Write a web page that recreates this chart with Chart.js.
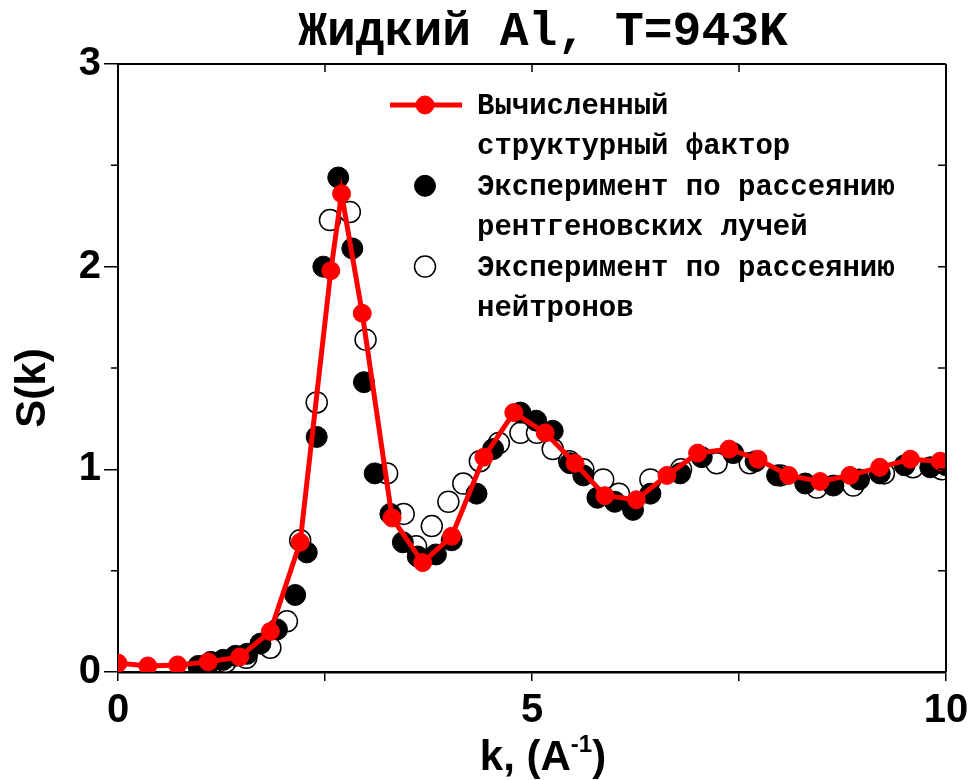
<!DOCTYPE html>
<html>
<head>
<meta charset="utf-8">
<script src="https://cdn.jsdelivr.net/npm/chart.js@4"></script>
<style>
  html, body { margin: 0; padding: 0; background: #fff; }
  #wrap { width: 970px; height: 780px; position: relative; }
</style>
</head>
<body>
<div id="wrap"><canvas id="c" width="970" height="780"></canvas></div>
<script>
// Calculated structure factor of liquid Al (red line with markers)
const kCalc = [0, 0.36, 0.72, 1.09, 1.47, 1.84, 2.20, 2.57, 2.70, 2.95, 3.31, 3.68, 4.03, 4.42, 4.78,
  5.16, 5.52, 5.88, 6.26, 6.63, 7.00, 7.38, 7.73, 8.10, 8.48, 8.84, 9.20, 9.57, 9.93];
const sCalc = [0.044, 0.03, 0.035, 0.05, 0.074, 0.20, 0.64, 1.98, 2.36, 1.77, 0.76, 0.54, 0.67, 1.06, 1.28,
  1.18, 1.03, 0.87, 0.85, 0.97, 1.08, 1.10, 1.05, 0.97, 0.94, 0.97, 1.01, 1.05, 1.04];

// X-ray scattering experiment (filled circles)
const kXray = [0.97, 1.12, 1.27, 1.42, 1.56, 1.72, 1.92, 2.14, 2.28, 2.40, 2.48, 2.66, 2.83, 2.97, 3.10,
  3.29, 3.44, 3.62, 3.84, 4.03, 4.33, 4.53, 4.86, 5.05, 5.25, 5.46, 5.62, 5.79, 6.00, 6.22, 6.43, 6.79,
  7.05, 7.43, 7.70, 7.96, 8.30, 8.64, 8.95, 9.20, 9.50, 9.81, 10.0];
const sXray = [0.03, 0.05, 0.06, 0.08, 0.09, 0.14, 0.21, 0.38, 0.59, 1.16, 2.00, 2.44, 2.09, 1.43, 0.98,
  0.78, 0.64, 0.57, 0.58, 0.65, 0.88, 1.10, 1.28, 1.24, 1.19, 1.03, 0.97, 0.86, 0.84, 0.80, 0.88, 0.98,
  1.06, 1.08, 1.04, 0.97, 0.93, 0.92, 0.95, 0.98, 1.02, 1.01, 1.02];

// Neutron scattering experiment (open circles)
const kNeut = [1.05, 1.30, 1.55, 1.84, 2.04, 2.20, 2.40, 2.56, 2.80, 2.99, 3.25, 3.45, 3.60, 3.79, 3.99,
  4.17, 4.37, 4.60, 4.86, 5.06, 5.25, 5.45, 5.62, 5.86, 6.05, 6.43, 6.80, 7.23, 7.63, 8.00, 8.44, 8.88,
  9.25, 9.60, 9.95];
const sNeut = [0.03, 0.05, 0.07, 0.12, 0.25, 0.65, 1.33, 2.23, 2.27, 1.64, 0.98, 0.78, 0.62, 0.72, 0.84,
  0.93, 1.04, 1.13, 1.18, 1.18, 1.10, 1.04, 1.00, 0.95, 0.88, 0.95, 1.00, 1.03, 1.03, 0.97, 0.91, 0.92,
  0.98, 1.01, 1.00];

// Axis ticks
const xTickValues = [0, 2.5, 5, 7.5, 10];
const xTickLabels = ['0', '', '5', '', '10'];
const yTickValues = [0, 0.5, 1, 1.5, 2, 2.5, 3];
const yTickLabels = ['0', '', '1', '', '2', '', '3'];

const titleText = 'Жидкий Al, T=943K';
const legendLines = [
  ['Вычисленный', 'структурный фактор'],
  ['Эксперимент по рассеянию', 'рентгеновских лучей'],
  ['Эксперимент по рассеянию', 'нейтронов']
];

const toPts = (ks, ss) => ks.map((k, i) => ({ x: k, y: ss[i] }));

const RED = '#ff0000';
const MONO = "bold 29px 'Liberation Mono', 'DejaVu Sans Mono', monospace";
const SANS = "'Liberation Sans', Arial, sans-serif";

const frame = {
  id: 'frame',
  afterDraw(chart) {
    const { ctx, chartArea: a, scales: { x, y } } = chart;
    ctx.save();
    ctx.strokeStyle = '#000';
    ctx.lineWidth = 2;
    // top and right axis lines
    ctx.beginPath();
    ctx.moveTo(a.left, a.top); ctx.lineTo(a.right, a.top);
    ctx.moveTo(a.right, a.top); ctx.lineTo(a.right, a.bottom);
    ctx.stroke();
    ctx.lineWidth = 1.5;
    ctx.beginPath();
    // top ticks pointing inward
    xTickValues.slice(1, -1).forEach(v => {
      const px = x.getPixelForValue(v);
      ctx.moveTo(px, a.top); ctx.lineTo(px, a.top + 8);
    });
    // right ticks pointing inward
    yTickValues.slice(1, -1).forEach(v => {
      const py = y.getPixelForValue(v);
      ctx.moveTo(a.right, py); ctx.lineTo(a.right - 8, py);
    });
    // left minor ticks (outward, shorter)
    yTickValues.forEach((v, i) => {
      if (yTickLabels[i] !== '') return;
      const py = y.getPixelForValue(v);
      ctx.moveTo(a.left, py); ctx.lineTo(a.left - 7, py);
    });
    ctx.stroke();

    // title
    ctx.fillStyle = '#000';
    ctx.font = "bold 48px 'Liberation Mono', 'DejaVu Sans Mono', monospace";
    ctx.textAlign = 'center';
    ctx.textBaseline = 'alphabetic';
    ctx.fillText(titleText, 543, 45);

    // x axis title with superscript
    const big = 'bold 42px ' + SANS, small = 'bold 24px ' + SANS;
    ctx.font = small; const w2 = ctx.measureText('-1').width;
    ctx.font = big;
    const p1 = 'k, (A', p3 = ')';
    const w1 = ctx.measureText(p1).width, w3 = ctx.measureText(p3).width;
    let sx = 543 - (w1 + w2 + w3) / 2;
    ctx.textAlign = 'left';
    ctx.fillText(p1, sx, 770); sx += w1;
    ctx.font = small; ctx.fillText('-1', sx, 752); sx += w2;
    ctx.font = big; ctx.fillText(p3, sx, 770);

    // y axis title
    ctx.save();
    ctx.translate(33, 388);
    ctx.rotate(-Math.PI / 2);
    ctx.textAlign = 'center';
    ctx.textBaseline = 'middle';
    ctx.font = 'bold 42px ' + SANS;
    ctx.fillText('S(k)', 0, 0);
    ctx.restore();

    // legend
    const ds = chart.data.datasets;
    const mx = 425, tx = 477, base = 114, step = 40.4;
    ctx.font = MONO;
    ctx.textAlign = 'left';
    ctx.textBaseline = 'alphabetic';
    legendLines.forEach((lines, i) => {
      const d = ds[i];
      const ly0 = base + step * 2 * i;
      const cy = ly0 - 9;
      if (d.showLine) {
        ctx.strokeStyle = d.borderColor;
        ctx.lineWidth = d.borderWidth;
        ctx.beginPath(); ctx.moveTo(390, cy); ctx.lineTo(462, cy); ctx.stroke();
      }
      ctx.beginPath();
      ctx.arc(mx, cy, d.pointRadius, 0, Math.PI * 2);
      ctx.fillStyle = d.pointBackgroundColor;
      ctx.fill();
      ctx.lineWidth = d.pointBorderWidth;
      ctx.strokeStyle = d.pointBorderColor;
      ctx.stroke();
      ctx.fillStyle = '#000';
      lines.forEach((t, j) => ctx.fillText(t, tx, ly0 + step * j));
    });
    ctx.restore();
  }
};

new Chart(document.getElementById('c'), {
  type: 'scatter',
  data: {
    datasets: [
      {
        label: 'Вычисленный структурный фактор',
        data: toPts(kCalc, sCalc),
        showLine: true,
        borderColor: RED,
        borderWidth: 5,
        pointRadius: 9,
        pointBackgroundColor: RED,
        pointBorderColor: RED,
        pointBorderWidth: 1,
        order: 0
      },
      {
        label: 'Эксперимент по рассеянию рентгеновских лучей',
        data: toPts(kXray, sXray),
        showLine: false,
        pointRadius: 10.5,
        pointBackgroundColor: '#000',
        pointBorderColor: '#000',
        pointBorderWidth: 1,
        order: 1
      },
      {
        label: 'Эксперимент по рассеянию нейтронов',
        data: toPts(kNeut, sNeut),
        showLine: false,
        pointRadius: 10.5,
        pointBackgroundColor: '#fff',
        pointBorderColor: '#000',
        pointBorderWidth: 1.5,
        order: 2
      }
    ]
  },
  options: {
    responsive: false,
    animation: false,
    events: [],
    layout: { padding: { top: 64, right: 24, left: 0, bottom: 0 } },
    plugins: { legend: { display: false }, tooltip: { enabled: false }, title: { display: false } },
    scales: {
      x: {
        type: 'linear',
        min: 0, max: 10,
        afterFit(s) { s.height = 108; s.paddingLeft = 0; s.paddingRight = 0; },
        afterBuildTicks(s) { s.ticks = xTickValues.map(v => ({ value: v })); },
        ticks: {
          color: '#000',
          font: { family: SANS, size: 40, weight: 'bold' },
          padding: 6,
          maxRotation: 0,
          autoSkip: false,
          callback: (v) => xTickLabels[xTickValues.indexOf(v)]
        },
        grid: { drawOnChartArea: false, drawTicks: true, tickLength: 9, color: '#000', lineWidth: 1.5 },
        border: { color: '#000', width: 2.5 }
      },
      y: {
        type: 'linear',
        min: 0, max: 3,
        afterFit(s) { s.width = 118; s.paddingTop = 0; s.paddingBottom = 0; },
        afterBuildTicks(s) { s.ticks = yTickValues.map(v => ({ value: v })); },
        ticks: {
          color: '#000',
          font: { family: SANS, size: 40, weight: 'bold' },
          padding: 3,
          autoSkip: false,
          callback: (v) => yTickLabels[yTickValues.indexOf(v)]
        },
        grid: {
          drawOnChartArea: false, drawTicks: true, tickLength: 14, lineWidth: 1.5,
          color: (c) => (c.tick && yTickLabels[yTickValues.indexOf(c.tick.value)] === '') ? 'rgba(0,0,0,0)' : '#000'
        },
        border: { color: '#000', width: 2 }
      }
    }
  },
  plugins: [frame]
});
</script>
</body>
</html>
